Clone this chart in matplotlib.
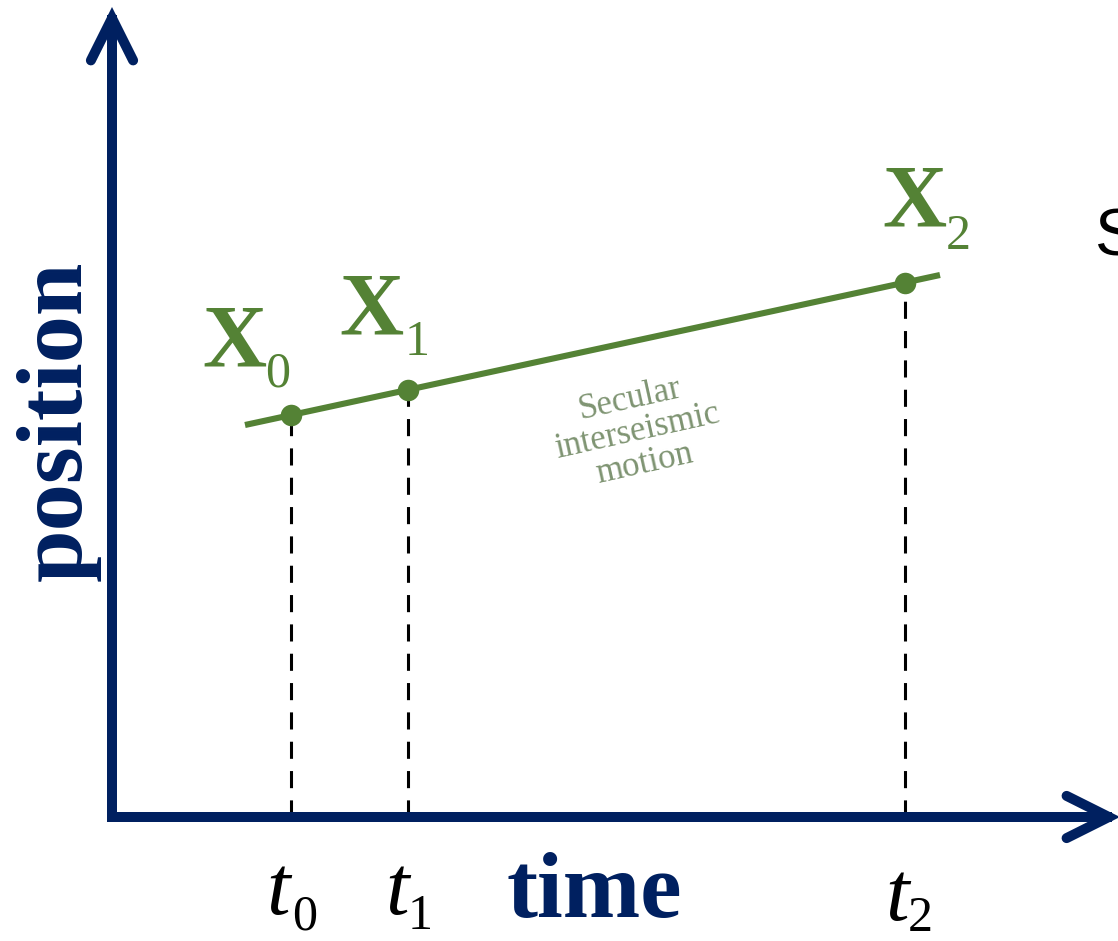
import matplotlib
matplotlib.use("Agg")
import matplotlib.pyplot as plt

# Observation epochs and positions (origin at the axis corner, 1 unit = 1 px)
times = [179, 296, 793]
positions = [402, 427, 534]
point_names = ["0", "1", "2"]

# Secular interseismic trend line end points
trend_t = [133, 828]
trend_pos = [392, 542]

NAVY = "#002060"
GREEN = "#548235"
MOTION_TXT = "#7f9472"
SERIF = "Liberation Serif"

W, H = 1118, 941
OX, OY = 112, 817

fig = plt.figure(figsize=(W / 100, H / 100), dpi=100)
ax = fig.add_axes([0, 0, 1, 1])
ax.set_xlim(-OX, W - OX)
ax.set_ylim(-(H - OY), OY)
ax.axis("off")

# Axis shafts
y_tip, x_tip = 810, W - OX + 2
ax.plot([0, 0], [-5, y_tip - 8], color=NAVY, lw=7.2, solid_capstyle="butt",
        zorder=5)
ax.plot([-5, x_tip - 8], [0, 0], color=NAVY, lw=7.2, solid_capstyle="butt",
        zorder=5)

# Open chevron arrow heads
head_kw = dict(arrowstyle="->,head_length=0.38,head_width=0.19", lw=7.2,
               color=NAVY, shrinkA=0, shrinkB=0, capstyle="round",
               joinstyle="miter", mutation_scale=80)
ax.annotate("", xy=(0, y_tip), xytext=(0, y_tip - 120), arrowprops=head_kw,
            zorder=6, annotation_clip=False)
ax.annotate("", xy=(x_tip, 0), xytext=(x_tip - 120, 0), arrowprops=head_kw,
            zorder=6, annotation_clip=False)

# Dashed drop lines from each observation to the time axis
ax.vlines(times, 0, positions, colors="black", lw=2.2,
          linestyles=(0, (5.6, 4.0)), zorder=2)

# Trend and observations
ax.plot(trend_t, trend_pos, color=GREEN, lw=4.4, solid_capstyle="butt", zorder=3)
ax.plot(times, positions, "o", color=GREEN, ms=15.5, mec="none", zorder=4)

# Point labels X_i
x_offsets = [(-89, 50, -26, 29), (-69, 57, -3, 35), (-23, 58, 41, 34)]
for t, p, name, (dx, dy, sdx, sdy) in zip(times, positions, point_names, x_offsets):
    ax.text(t + dx, p + dy, "X", family=SERIF, weight="bold", fontsize=64,
            color=GREEN, ha="left", va="baseline")
    ax.text(t + sdx, p + sdy, name, family=SERIF, fontsize=36,
            color=GREEN, ha="left", va="baseline")

# Epoch labels t_i
t_offsets = [(-25, -97, 1, -112), (-23, -97, 0, -112), (-20, -103, 3, -114)]
for t, name, (dx, dy, sdx, sdy) in zip(times, point_names, t_offsets):
    ax.text(t + dx, dy, "t", family=SERIF, style="italic", fontsize=61,
            color="black", ha="left", va="baseline")
    ax.text(t + sdx, sdy, name, family=SERIF, fontsize=36,
            color="black", ha="left", va="baseline")

# Axis titles
ax.text(506 - OX, -100, "time", family=SERIF, weight="bold", fontsize=67,
        color=NAVY, ha="left", va="baseline")
ax.text(58 - OX, OY - 421, "position", family=SERIF, weight="bold",
        fontsize=68, color=NAVY, rotation=90, ha="center", va="center")

# Motion annotation along the trend
ax.text(637 - OX, OY - 432, "Secular\ninterseismic\nmotion", family=SERIF,
        fontsize=25, color=MOTION_TXT, rotation=12.5, rotation_mode="anchor",
        ha="center", va="center", multialignment="center", linespacing=1.0)

# Partly visible side heading
ax.text(1094 - OX, OY - 255, "S", family="Liberation Sans", fontsize=48,
        color="black", ha="left", va="baseline")

fig.savefig("out.png", dpi=100)
